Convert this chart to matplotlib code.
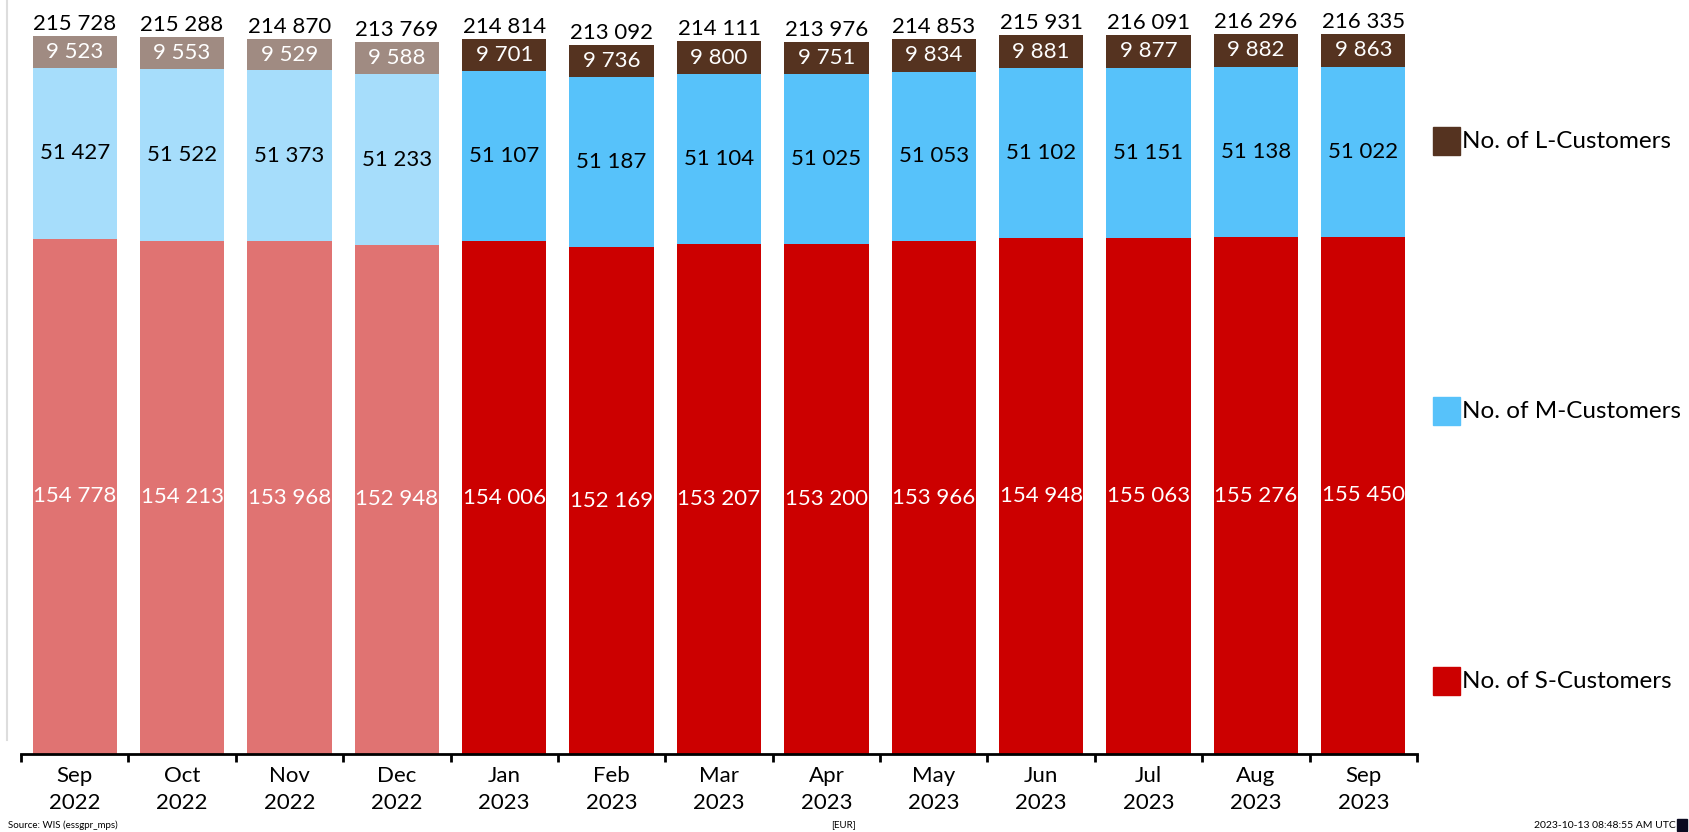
import matplotlib.pyplot as plt
from matplotlib.patches import Rectangle
from matplotlib.lines import Line2D

plt.rcParams['font.family'] = ['Lato', 'DejaVu Sans']

months = ['Sep\n2022', 'Oct\n2022', 'Nov\n2022', 'Dec\n2022', 'Jan\n2023', 'Feb\n2023',
          'Mar\n2023', 'Apr\n2023', 'May\n2023', 'Jun\n2023', 'Jul\n2023', 'Aug\n2023', 'Sep\n2023']
s_cust = [154778, 154213, 153968, 152948, 154006, 152169, 153207, 153200, 153966,
          154948, 155063, 155276, 155450]
m_cust = [51427, 51522, 51373, 51233, 51107, 51187, 51104, 51025, 51053,
          51102, 51151, 51138, 51022]
l_cust = [9523, 9553, 9529, 9588, 9701, 9736, 9800, 9751, 9834,
          9881, 9877, 9882, 9863]
prev_year = [True, True, True, True] + [False] * 9

col_s = ['#E07372' if p else '#CC0000' for p in prev_year]
col_m = ['#A6DDFB' if p else '#57C2FA' for p in prev_year]
col_l = ['#A08B82' if p else '#553320' for p in prev_year]


def fmt(v):
    return f'{v:,}'.replace(',', ' ')


fig = plt.figure(figsize=(16.89, 8.32), dpi=100)
ax = fig.add_axes([21 / 1689, 78 / 832, 1396 / 1689, 754 / 832])

x = list(range(len(months)))
w = 0.785
bottom_m = s_cust
bottom_l = [a + b for a, b in zip(s_cust, m_cust)]
totals = [a + b for a, b in zip(bottom_l, l_cust)]

ax.bar(x, s_cust, w, color=col_s)
ax.bar(x, m_cust, w, bottom=bottom_m, color=col_m)
ax.bar(x, l_cust, w, bottom=bottom_l, color=col_l)

fs = 16
for i in x:
    ax.text(i, s_cust[i] / 2, fmt(s_cust[i]), ha='center', va='center', color='white', fontsize=fs)
    ax.text(i, bottom_m[i] + m_cust[i] / 2, fmt(m_cust[i]), ha='center', va='center', color='black', fontsize=fs)
    ax.text(i, bottom_l[i] + l_cust[i] / 2, fmt(l_cust[i]), ha='center', va='center', color='white', fontsize=fs)
    ax.text(i, totals[i] + 600, fmt(totals[i]), ha='center', va='bottom', color='black', fontsize=fs)

ax.set_xlim(-0.5, len(months) - 0.5)
ax.set_ylim(0, 226500)
for sp in ['top', 'right', 'left']:
    ax.spines[sp].set_visible(False)
ax.spines['bottom'].set_linewidth(2)
ax.set_yticks([])
ax.set_xticks(x)
ax.set_xticklabels(months, fontsize=fs, linespacing=1.4)
ax.tick_params(axis='x', length=0, pad=9)
ax.set_xticks([i - 0.5 for i in range(len(months) + 1)], minor=True)
ax.tick_params(axis='x', which='minor', length=6, width=2, direction='out')

# legend placed down the right side
legend_items = [('No. of L-Customers', '#553320', 141),
                ('No. of M-Customers', '#57C2FA', 411),
                ('No. of S-Customers', '#CC0000', 681)]
for name, c, yp in legend_items:
    fig.add_artist(Rectangle((1433 / 1689, 1 - (yp + 14) / 832), 27 / 1689, 28 / 832,
                             transform=fig.transFigure, color=c))
    fig.text(1462 / 1689, 1 - yp / 832, name, fontsize=17.5, va='center', ha='left')

fig.add_artist(Line2D([7 / 1689, 7 / 1689], [1 - 740 / 832, 1], color='#dddddd', lw=1.5))

fig.text(8 / 1689, 1 - 825 / 832, 'Source: WIS (essgpr_mps)', fontsize=7, va='center')
fig.text(843 / 1689, 1 - 825 / 832, '[EUR]', fontsize=7, va='center', ha='center')
fig.text(1676 / 1689, 1 - 825 / 832, '2023-10-13 08:48:55 AM UTC', fontsize=7.5, va='center', ha='right')
fig.add_artist(Rectangle((1677 / 1689, 1 - 831 / 832), 10 / 1689, 12 / 832,
                         transform=fig.transFigure, color='#0a0a20'))

fig.savefig('out.png', dpi=100)
